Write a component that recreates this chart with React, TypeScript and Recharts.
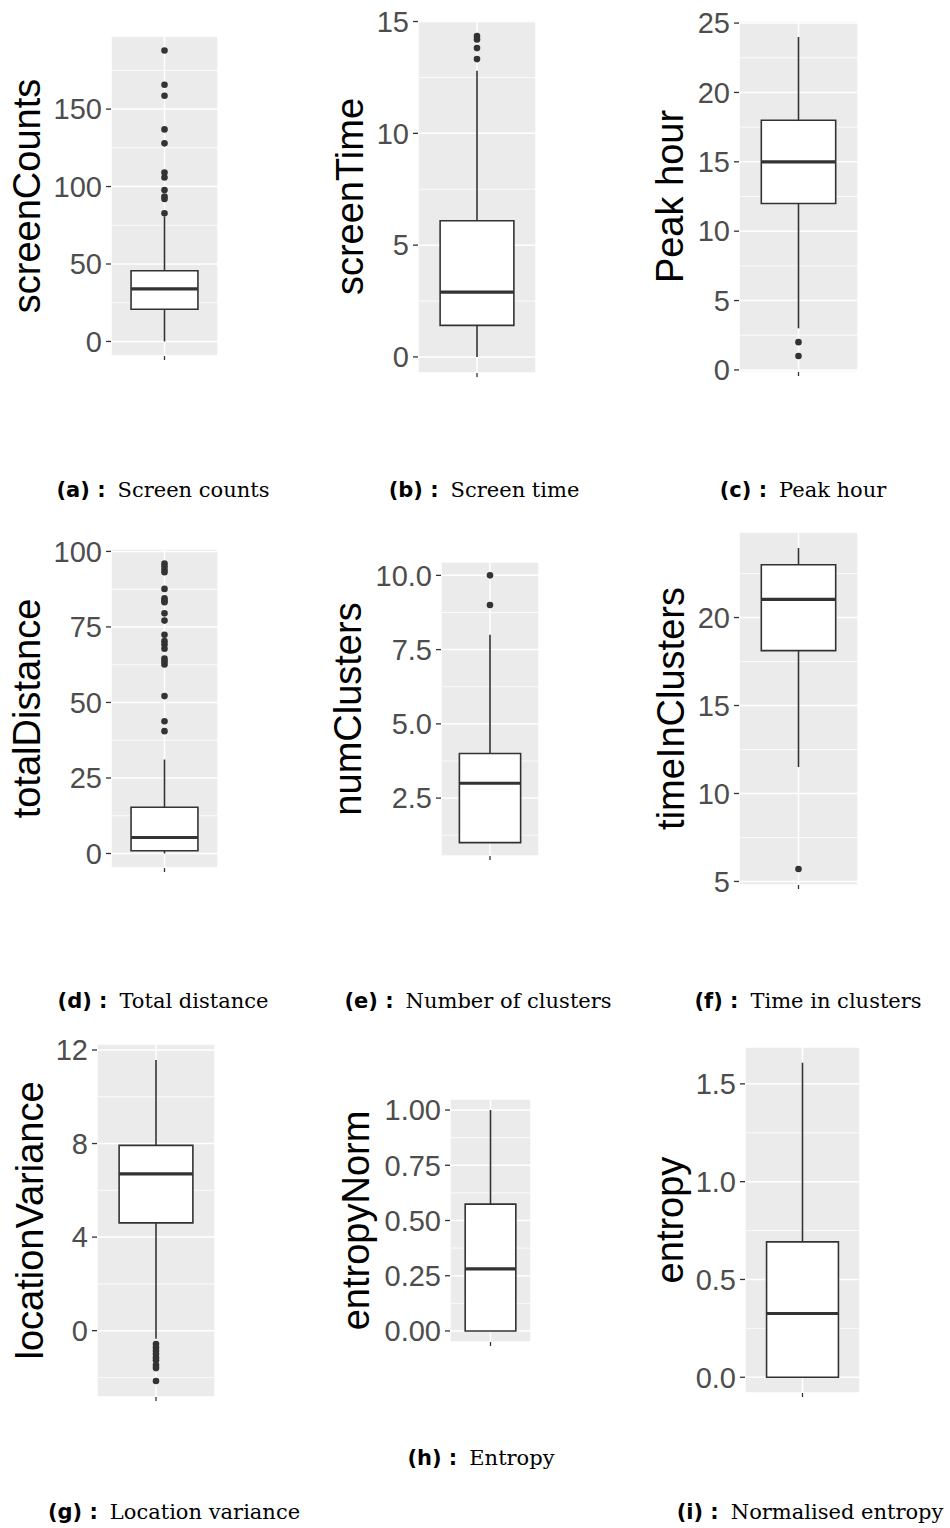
import React from "react";
import {
  ComposedChart,
  XAxis,
  YAxis,
  CartesianGrid,
  ReferenceArea,
  ReferenceLine,
  Scatter,
} from "recharts";

// Box summaries: [lower whisker, Q1, median, Q3, upper whisker]
const screenCountsBox = [0, 20.8, 34.0, 45.6, 80.5];
const screenCountsOut = [187.8, 165.7, 158.6, 136.9, 127.9, 109.0, 105.8, 97.8, 93.5, 92.0, 82.7];
const screenCountsTicks = [0, 50, 100, 150];
const screenCountsMinor = [25, 75, 125, 175];

const screenTimeBox = [0, 1.41, 2.9, 6.09, 12.8];
const screenTimeOut = [14.35, 14.2, 13.81, 13.32];
const screenTimeTicks = [0, 5, 10, 15];
const screenTimeMinor = [2.5, 7.5, 12.5];

const peakHourBox = [3, 12, 15, 18, 24];
const peakHourOut = [2, 1];
const peakHourTicks = [0, 5, 10, 15, 20, 25];
const peakHourMinor = [2.5, 7.5, 12.5, 17.5, 22.5];

const totalDistanceBox = [0, 0.9, 5.3, 15.3, 31.1];
const totalDistanceOut = [
  96.0, 95.0, 93.9, 93.1, 87.6, 84.5, 83.7, 83.2, 79.5, 77.1,
  72.4, 70.3, 69.2, 67.8, 64.5, 63.6, 62.6, 52.1, 43.8, 40.5,
];
const totalDistanceTicks = [0, 25, 50, 75, 100];
const totalDistanceMinor = [12.5, 37.5, 62.5, 87.5];

const numClustersBox = [1, 1, 3, 4, 8];
const numClustersOut = [10, 9];
const numClustersTicks = [2.5, 5, 7.5, 10];
const numClustersMinor = [1.25, 3.75, 6.25, 8.75];

const timeInClustersBox = [11.5, 18.12, 21.03, 23.0, 23.95];
const timeInClustersOut = [5.71];
const timeInClustersTicks = [5, 10, 15, 20];
const timeInClustersMinor = [7.5, 12.5, 17.5, 22.5];

const locationVarianceBox = [-0.35, 4.61, 6.7, 7.92, 11.57];
const locationVarianceOut = [-0.57, -0.72, -0.86, -1.0, -1.15, -1.26, -1.47, -1.6, -2.15];
const locationVarianceTicks = [0, 4, 8, 12];
const locationVarianceMinor = [-2, 2, 6, 10];

const entropyNormBox = [0, 0, 0.281, 0.574, 1.0];
const entropyNormOut: number[] = [];
const entropyNormTicks = [0, 0.25, 0.5, 0.75, 1];
const entropyNormMinor = [0.125, 0.375, 0.625, 0.875];

const entropyBox = [0, 0, 0.326, 0.692, 1.608];
const entropyOut: number[] = [];
const entropyTicks = [0, 0.5, 1, 1.5];
const entropyMinor = [0.25, 0.75, 1.25];

const captionTags = ["(a)", "(b)", "(c)", "(d)", "(e)", "(f)", "(g)", "(h)", "(i)"];
const captionTexts = [
  "Screen counts",
  "Screen time",
  "Peak hour",
  "Total distance",
  "Number of clusters",
  "Time in clusters",
  "Location variance",
  "Entropy",
  "Normalised entropy",
];

const SANS = "'Liberation Sans', Arial, sans-serif";
const INK = "#333333";
const PAD_T = 24;
const PAD_R = 12;
const X_AXIS_H = 24;
const HALF_BOX = 0.375;

type Frame = {
  left: number;
  plotLeft: number;
  plotRight: number;
  plotTop: number;
  plotBottom: number;
  labelX: number;
};

type PanelProps = {
  title: string;
  box: number[];
  outliers: number[];
  ticks: number[];
  minor: number[];
  digits: number;
  frame: Frame;
};

function BoxPanel({ title, box, outliers, ticks, minor, digits, frame }: PanelProps) {
  const [lo, q1, med, q3, hi] = box;
  const values = [lo, hi, ...outliers];
  const min = Math.min(...values);
  const max = Math.max(...values);
  const pad = (max - min) * 0.05;
  const width = frame.plotRight - frame.left + PAD_R;
  const height = frame.plotBottom - frame.plotTop + PAD_T + X_AXIS_H;
  const points = outliers.map((v) => ({ x: 0, y: v }));

  return (
    <div style={{ position: "absolute", left: frame.left, top: frame.plotTop - PAD_T }}>
      <ComposedChart
        width={width}
        height={height}
        margin={{ top: PAD_T, right: PAD_R, bottom: 0, left: 0 }}
      >
        {/* minor breaks first, then the major grid on top */}
        <CartesianGrid
          fill="#EBEBEB"
          stroke="#FFFFFF"
          strokeWidth={0.8}
          vertical={false}
          horizontalValues={minor}
        />
        <CartesianGrid stroke="#FFFFFF" strokeWidth={1.5} />
        <XAxis
          type="number"
          dataKey="x"
          domain={[-0.6, 0.6]}
          allowDataOverflow
          ticks={[0]}
          tickFormatter={() => ""}
          tickSize={4}
          tickLine={{ stroke: INK, strokeWidth: 1.3 }}
          axisLine={false}
          height={X_AXIS_H}
        />
        <YAxis
          type="number"
          dataKey="y"
          domain={[min - pad, max + pad]}
          allowDataOverflow
          ticks={ticks}
          interval={0}
          tickFormatter={(v: number) => v.toFixed(digits)}
          tick={{ fill: "#4D4D4D", fontSize: 29, fontFamily: SANS }}
          tickSize={5}
          tickMargin={4}
          tickLine={{ stroke: INK, strokeWidth: 1.3 }}
          axisLine={false}
          width={frame.plotLeft - frame.left}
          label={{
            value: title,
            angle: -90,
            position: "insideLeft",
            offset: frame.labelX - frame.left,
            style: { textAnchor: "middle", fontSize: 38, fill: "#000000", fontFamily: SANS },
          }}
        />
        <ReferenceArea
          x1={-HALF_BOX}
          x2={HALF_BOX}
          y1={q1}
          y2={q3}
          fill="#FFFFFF"
          fillOpacity={1}
          stroke={INK}
          strokeWidth={1.6}
        />
        <ReferenceLine
          segment={[{ x: 0, y: q3 }, { x: 0, y: hi }]}
          stroke={INK}
          strokeWidth={1.6}
        />
        <ReferenceLine
          segment={[{ x: 0, y: lo }, { x: 0, y: q1 }]}
          stroke={INK}
          strokeWidth={1.6}
        />
        <ReferenceLine
          segment={[{ x: -HALF_BOX, y: med }, { x: HALF_BOX, y: med }]}
          stroke={INK}
          strokeWidth={3.2}
        />
        <Scatter
          data={points}
          dataKey="y"
          isAnimationActive={false}
          shape={(p: any) => <circle cx={p.cx} cy={p.cy} r={3.3} fill={INK} />}
        />
      </ComposedChart>
    </div>
  );
}

const panels: PanelProps[] = [
  {
    title: "screenCounts", box: screenCountsBox, outliers: screenCountsOut,
    ticks: screenCountsTicks, minor: screenCountsMinor, digits: 0,
    frame: { left: 0, plotLeft: 111, plotRight: 218, plotTop: 36, plotBottom: 356, labelX: 27 },
  },
  {
    title: "screenTime", box: screenTimeBox, outliers: screenTimeOut,
    ticks: screenTimeTicks, minor: screenTimeMinor, digits: 0,
    frame: { left: 320, plotLeft: 418, plotRight: 536, plotTop: 20, plotBottom: 373, labelX: 350 },
  },
  {
    title: "Peak hour", box: peakHourBox, outliers: peakHourOut,
    ticks: peakHourTicks, minor: peakHourMinor, digits: 0,
    frame: { left: 630, plotLeft: 739, plotRight: 858, plotTop: 21, plotBottom: 372, labelX: 670 },
  },
  {
    title: "totalDistance", box: totalDistanceBox, outliers: totalDistanceOut,
    ticks: totalDistanceTicks, minor: totalDistanceMinor, digits: 0,
    frame: { left: 0, plotLeft: 111, plotRight: 218, plotTop: 549, plotBottom: 868, labelX: 27 },
  },
  {
    title: "numClusters", box: numClustersBox, outliers: numClustersOut,
    ticks: numClustersTicks, minor: numClustersMinor, digits: 1,
    frame: { left: 320, plotLeft: 441, plotRight: 539, plotTop: 562, plotBottom: 856, labelX: 348 },
  },
  {
    title: "timeInClusters", box: timeInClustersBox, outliers: timeInClustersOut,
    ticks: timeInClustersTicks, minor: timeInClustersMinor, digits: 0,
    frame: { left: 630, plotLeft: 739, plotRight: 858, plotTop: 532, plotBottom: 885, labelX: 671 },
  },
  {
    title: "locationVariance", box: locationVarianceBox, outliers: locationVarianceOut,
    ticks: locationVarianceTicks, minor: locationVarianceMinor, digits: 0,
    frame: { left: 0, plotLeft: 97, plotRight: 215, plotTop: 1044, plotBottom: 1397, labelX: 30 },
  },
  {
    title: "entropyNorm", box: entropyNormBox, outliers: entropyNormOut,
    ticks: entropyNormTicks, minor: entropyNormMinor, digits: 2,
    frame: { left: 320, plotLeft: 450, plotRight: 531, plotTop: 1099, plotBottom: 1342, labelX: 356 },
  },
  {
    title: "entropy", box: entropyBox, outliers: entropyOut,
    ticks: entropyTicks, minor: entropyMinor, digits: 1,
    frame: { left: 630, plotLeft: 745, plotRight: 860, plotTop: 1047, plotBottom: 1393, labelX: 670 },
  },
];

// caption anchor points (centre x, baseline y), in panel order a..i
const captionPos = [
  [163, 497], [484, 497], [803, 497],
  [163, 1008], [478, 1008], [808, 1008],
  [174, 1519], [481, 1465], [810, 1519],
];

export default function App() {
  return (
    <div
      style={{
        position: "absolute",
        left: 0,
        top: 0,
        width: 950,
        height: 1528,
        background: "#FFFFFF",
        overflow: "hidden",
      }}
    >
      {panels.map((p) => (
        <BoxPanel key={p.title} {...p} />
      ))}
      <svg
        width={950}
        height={1528}
        style={{ position: "absolute", left: 0, top: 0, pointerEvents: "none" }}
      >
        {captionTags.map((tag, i) => (
          <text
            key={tag}
            x={captionPos[i][0]}
            y={captionPos[i][1]}
            textAnchor="middle"
            fontSize={21}
            fill="#000000"
          >
            <tspan fontFamily="'DejaVu Sans', sans-serif" fontWeight="bold">
              {tag} :
            </tspan>
            <tspan fontFamily="'DejaVu Serif', serif" dx={12}>
              {captionTexts[i]}
            </tspan>
          </text>
        ))}
      </svg>
    </div>
  );
}
